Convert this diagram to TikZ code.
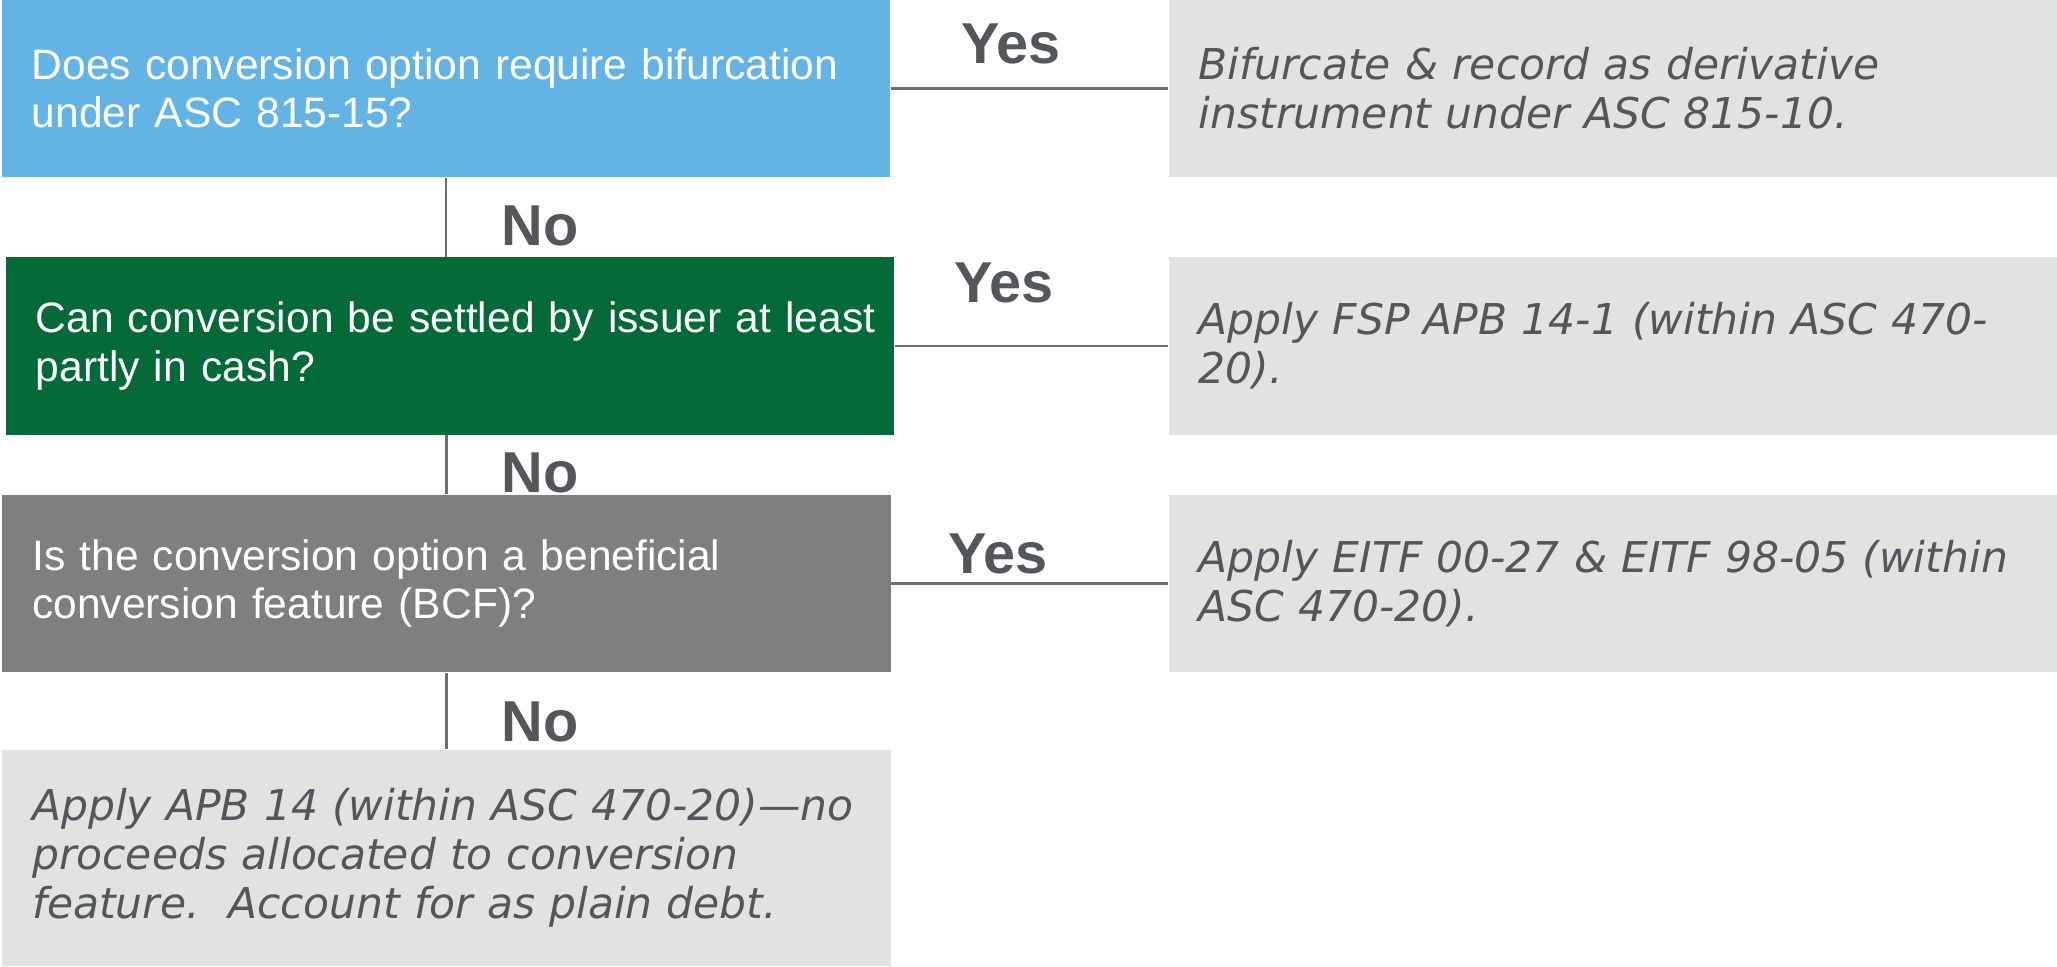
\documentclass[tikz,border=0pt]{standalone}
\usepackage{fontspec}
\usepackage{tikz}

\newfontfamily\arialfont{Liberation Sans}
\newfontfamily\verdanafont{DejaVu Sans}

\definecolor{qblue}{HTML}{63B4E5}
\definecolor{qgreen}{HTML}{046A38}
\definecolor{qgray}{HTML}{7F7F7F}
\definecolor{agray}{HTML}{E2E2E0}
\definecolor{txtgray}{HTML}{53565A}
\definecolor{linegray}{HTML}{6D6E71}

\begin{document}
\begin{tikzpicture}[x=0.01cm, y=-0.01cm,
    qbox/.style={rectangle, minimum width=8.88cm, minimum height=1.77cm,
        inner xsep=0.3cm, inner ysep=0pt, text width=8.28cm, align=left,
        text=white, font=\arialfont\fontsize{12.1}{13.8}\selectfont},
    abox/.style={rectangle, fill=agray, minimum width=8.88cm, minimum height=1.77cm,
        inner xsep=0.3cm, inner ysep=0pt, text width=8.28cm, align=left,
        text=txtgray, font=\verdanafont\itshape\fontsize{12.07}{14}\selectfont},
    lbl/.style={text=txtgray, inner sep=0pt, anchor=base,
        font=\arialfont\bfseries\fontsize{16.4}{18}\selectfont},
    link/.style={draw=linegray, line width=0.6pt}]
    \useasboundingbox (0,0) rectangle (2057,966);

    % Questions
    \foreach \txt/\col/\i/\xx/\yy in {
        {Does conversion option require bifurcation\\under ASC 815-15?}/qblue/1/446/88.5,
        {\mbox{Can conversion be settled by issuer at least}\\partly in cash?}/qgreen/2/450/346,
        {Is the conversion option a beneficial\\conversion feature (BCF)?}/qgray/3/446.5/583.5} {
        \node[qbox, fill=\col] (Question-\i) at (\xx,\yy) {\txt};
    }
    % Answers
    \foreach \txt/\i/\yy in {
        {Bifurcate \& record as derivative\\instrument under ASC 815-10.}/1/88.5,
        {Apply FSP APB 14-1 (within ASC 470-\\20).}/2/346,
        {Apply EITF 00-27 \& EITF 98-05 (within\\ASC 470-20).}/3/583.5} {
        \node[abox] (Answer-\i) at (1613,\yy) {\txt};
    }
    \node[abox, minimum height=2.16cm] (Answer-4) at (446.5,858)
        {Apply APB 14 (within ASC 470-20)—no\\proceeds allocated to conversion\\feature.\ \ Account for as plain debt.};

    % Yes / No
    \foreach \lab/\i/\xx/\yy in {Yes/1/1011/63, Yes/2/1004/302, Yes/3/998/573,
                                No/4/540/245, No/5/540/492, No/6/540/741} {
        \node[lbl] (Label-\i) at (\xx,\yy) {\lab};
    }

    % Lines
    \foreach \i in {1,2,3} {
        \draw[link] (Question-\i) -- (Answer-\i);
    }
    \draw[link] (Question-1.south) -- (Question-1.south |- Question-2.north);
    \draw[link] (Question-3.north |- Question-2.south) -- (Question-3.north);
    \draw[link] (Question-3.south) -- (Answer-4.north);
\end{tikzpicture}
\end{document}
